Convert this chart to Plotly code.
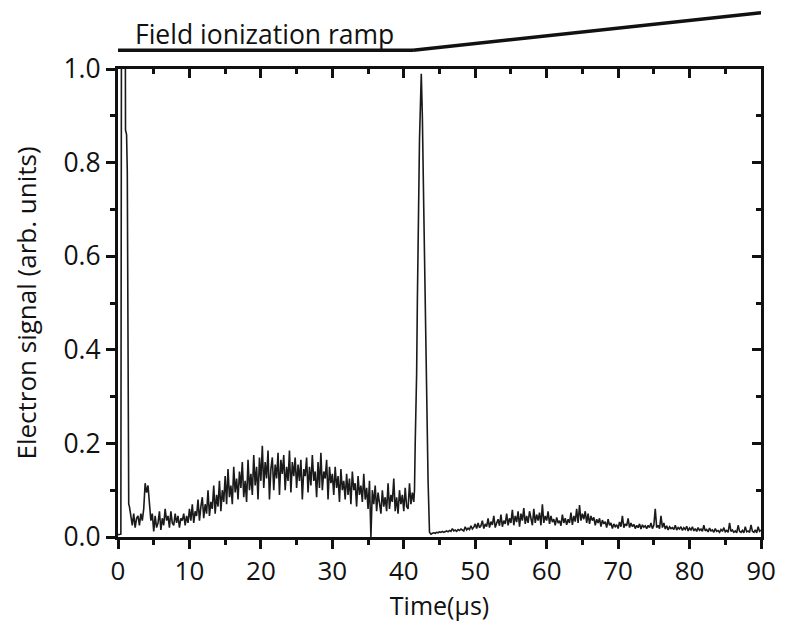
import plotly.graph_objects as go

# ---- data ----
peak1_time = [0.0, 0.2, 0.4, 0.5, 0.6, 0.8, 1.0, 1.05, 1.2, 1.3, 1.4, 1.5]
peak1_signal = [0.005, 0.005, 0.006, 1.3, 1.3, 1.3, 1.3, 0.87, 0.86, 0.78, 0.12, 0.07]

noiseA_start = 1.6
noiseA_step = 0.2
noiseA_signal = [
    0.065, 0.04, 0.025, 0.05, 0.02, 0.04, 0.045, 0.025, 0.05, 0.035, 0.06,
    0.115, 0.095, 0.11, 0.06, 0.035, 0.05,
    0.012, 0.045, 0.02, 0.03, 0.055, 0.015, 0.04, 0.025, 0.06, 0.035, 0.045, 0.02, 0.055,
    0.03, 0.025, 0.05, 0.03, 0.045, 0.02, 0.04, 0.035, 0.05, 0.025, 0.045, 0.03, 0.06,
    0.035, 0.07, 0.03, 0.055, 0.045, 0.08, 0.035, 0.065, 0.085, 0.04, 0.07, 0.05, 0.1,
    0.045, 0.075, 0.06, 0.11, 0.05, 0.09, 0.065, 0.12, 0.055, 0.1, 0.075, 0.13,
    0.07, 0.145, 0.085, 0.11, 0.07, 0.15, 0.095, 0.125, 0.08, 0.14, 0.105, 0.16, 0.085,
    0.12, 0.075, 0.165, 0.1, 0.135, 0.09, 0.175, 0.11, 0.15, 0.08, 0.17, 0.12,
    0.195, 0.105, 0.16, 0.125, 0.185, 0.08, 0.145, 0.17, 0.1, 0.155, 0.125, 0.18, 0.09,
    0.165, 0.135, 0.175, 0.1, 0.15, 0.12, 0.185, 0.095, 0.16, 0.13, 0.17, 0.105,
    0.155, 0.12, 0.165, 0.08, 0.145, 0.13, 0.17, 0.095, 0.15, 0.11, 0.175, 0.12, 0.14,
    0.085, 0.16, 0.105, 0.18, 0.1, 0.14, 0.125, 0.165, 0.08, 0.15, 0.115, 0.135,
    0.09, 0.15, 0.105, 0.13, 0.075, 0.145, 0.1, 0.12, 0.08, 0.135, 0.09, 0.125, 0.07,
    0.14, 0.1, 0.115, 0.065, 0.13, 0.09, 0.11, 0.075, 0.135, 0.08, 0.105, 0.06,
    0.12, 0.0, 0.1, 0.07, 0.11,
    0.055, 0.095, 0.07, 0.05, 0.1, 0.065, 0.085, 0.055, 0.115, 0.06, 0.09, 0.075, 0.125,
    0.055, 0.085, 0.05, 0.1, 0.07, 0.09, 0.055, 0.105, 0.065, 0.06, 0.115, 0.07, 0.095, 0.075,
]

peak2_time = [41.5, 41.6, 41.7, 41.8, 41.9, 42.0, 42.2, 42.45, 42.6, 42.8, 43.0, 43.2, 43.4, 43.6]
peak2_signal = [0.1, 0.2, 0.25, 0.35, 0.5, 0.62, 0.85, 0.99, 0.9, 0.7, 0.5, 0.3, 0.12, 0.01]

noiseB_start = 43.8
noiseB_step = 0.2
noiseB_signal = [
    0.006, 0.008, 0.009, 0.008, 0.01, 0.009, 0.011, 0.01, 0.012, 0.01, 0.011, 0.013,
    0.011, 0.014, 0.012, 0.018, 0.013, 0.015, 0.012, 0.016, 0.014, 0.017, 0.015, 0.013,
    0.022, 0.015, 0.019, 0.016, 0.024, 0.017, 0.021, 0.028,
    0.018, 0.03, 0.02, 0.024, 0.035, 0.018, 0.028, 0.022, 0.04, 0.02, 0.033, 0.026, 0.045,
    0.02, 0.03, 0.038, 0.024, 0.048, 0.022, 0.035, 0.028, 0.05, 0.025, 0.04, 0.03,
    0.058, 0.025, 0.045, 0.032, 0.055, 0.022, 0.05, 0.035, 0.062, 0.028, 0.045, 0.03, 0.055,
    0.04, 0.025, 0.06, 0.03, 0.048, 0.035, 0.052, 0.025, 0.07, 0.03, 0.045, 0.035,
    0.055, 0.028, 0.045, 0.032, 0.038, 0.025, 0.042, 0.03, 0.035, 0.024, 0.048, 0.03, 0.04,
    0.026, 0.038, 0.03, 0.052, 0.026, 0.045, 0.033, 0.06, 0.03, 0.068, 0.035, 0.05,
    0.038, 0.055, 0.03, 0.05, 0.028, 0.045, 0.035, 0.042, 0.025, 0.038, 0.03, 0.04, 0.022,
    0.036, 0.028, 0.033, 0.02, 0.038, 0.025, 0.03, 0.018, 0.028, 0.022, 0.026, 0.018,
    0.032, 0.022, 0.045, 0.02, 0.028, 0.024, 0.04, 0.02, 0.03, 0.022, 0.027, 0.018, 0.025,
    0.02, 0.028, 0.017, 0.026, 0.021, 0.024, 0.018, 0.025, 0.02, 0.03, 0.018, 0.025,
    0.06, 0.02, 0.025, 0.018, 0.045, 0.02, 0.03, 0.017, 0.024, 0.015, 0.022, 0.018, 0.02,
    0.016, 0.025, 0.015, 0.02, 0.017, 0.022, 0.014, 0.02, 0.016, 0.023, 0.013, 0.019,
    0.015, 0.022, 0.013, 0.018, 0.012, 0.02, 0.014, 0.017, 0.012, 0.025, 0.013, 0.016,
    0.011, 0.019, 0.013, 0.015, 0.01, 0.018, 0.012, 0.014, 0.01, 0.016, 0.012, 0.02, 0.011,
    0.014, 0.01, 0.03, 0.012, 0.015, 0.01, 0.013, 0.009, 0.025, 0.012, 0.01, 0.014, 0.009,
    0.022, 0.011, 0.013, 0.01, 0.026, 0.012, 0.01, 0.015, 0.009, 0.022, 0.012, 0.015,
]

ramp_time = [0.0, 41.3, 90.0]
ramp_level = [1.040, 1.040, 1.120]  # paper-fraction heights of the ramp sketch
ramp_label = "Field ionization ramp"

x_ticks = [0, 10, 20, 30, 40, 50, 60, 70, 80, 90]
y_ticks = [0.0, 0.2, 0.4, 0.6, 0.8, 1.0]

# ---- assemble series ----
time = list(peak1_time)
signal = list(peak1_signal)
time += [round(noiseA_start + i * noiseA_step, 3) for i in range(len(noiseA_signal))]
signal += noiseA_signal
time += peak2_time
signal += peak2_signal
time += [round(noiseB_start + i * noiseB_step, 3) for i in range(len(noiseB_signal))]
signal += noiseB_signal

FONT = "Open Sans"
INK = "#111111"
fig = go.Figure()
fig.add_trace(go.Scatter(x=time, y=signal, mode="lines",
                         line=dict(color="#1a1a1a", width=1.6), showlegend=False,
                         hoverinfo="skip"))
# invisible trace for mirrored axes
fig.add_trace(go.Scatter(x=[0, 90], y=[0, 1], xaxis="x2", yaxis="y2", mode="lines",
                         line=dict(width=0), showlegend=False, hoverinfo="skip"))

# ramp sketch
for i in range(len(ramp_time) - 1):
    fig.add_shape(type="line", xref="x", yref="paper",
                  x0=ramp_time[i], y0=ramp_level[i], x1=ramp_time[i + 1], y1=ramp_level[i + 1],
                  line=dict(color=INK, width=3.5))
fig.add_annotation(x=20.5, y=1.074, xref="x", yref="paper", text=ramp_label,
                   showarrow=False, font=dict(family=FONT, size=26.5, color=INK),
                   xanchor="center", yanchor="middle")

axis_common = dict(showline=True, linewidth=3, linecolor=INK, showgrid=False,
                   zeroline=False, tickcolor=INK, tickwidth=2.5)

fig.update_layout(
    width=788, height=624,
    margin=dict(l=118, r=17, t=69, b=84),
    plot_bgcolor="white", paper_bgcolor="white",
    font=dict(family=FONT, size=26, color=INK),
    xaxis=dict(range=[0, 90], tickvals=x_ticks, ticks="outside", ticklen=9,
               minor=dict(dtick=5, ticks="outside", ticklen=5, tickwidth=2.5, tickcolor=INK),
               title=dict(text="Time(μs)", font=dict(size=25), standoff=6),
               tickfont=dict(size=26), **axis_common),
    yaxis=dict(range=[0, 1.0], tickvals=y_ticks, tickformat=".1f", ticks="outside", ticklen=9,
               minor=dict(dtick=0.1, ticks="outside", ticklen=5, tickwidth=2.5, tickcolor=INK),
               title=dict(text="Electron signal (arb. units)", font=dict(size=26), standoff=20),
               tickfont=dict(size=26.5), **axis_common),
    xaxis2=dict(range=[0, 90], overlaying="x", side="top", tickvals=x_ticks, ticks="inside",
                ticklen=9, showticklabels=False,
                minor=dict(dtick=5, ticks="inside", ticklen=5, tickwidth=2.5, tickcolor=INK),
                **axis_common),
    yaxis2=dict(range=[0, 1.0], overlaying="y", side="right", tickvals=y_ticks, ticks="inside",
                ticklen=9, showticklabels=False,
                minor=dict(dtick=0.1, ticks="inside", ticklen=5, tickwidth=2.5, tickcolor=INK),
                **axis_common),
)

fig.write_html("out.html")
